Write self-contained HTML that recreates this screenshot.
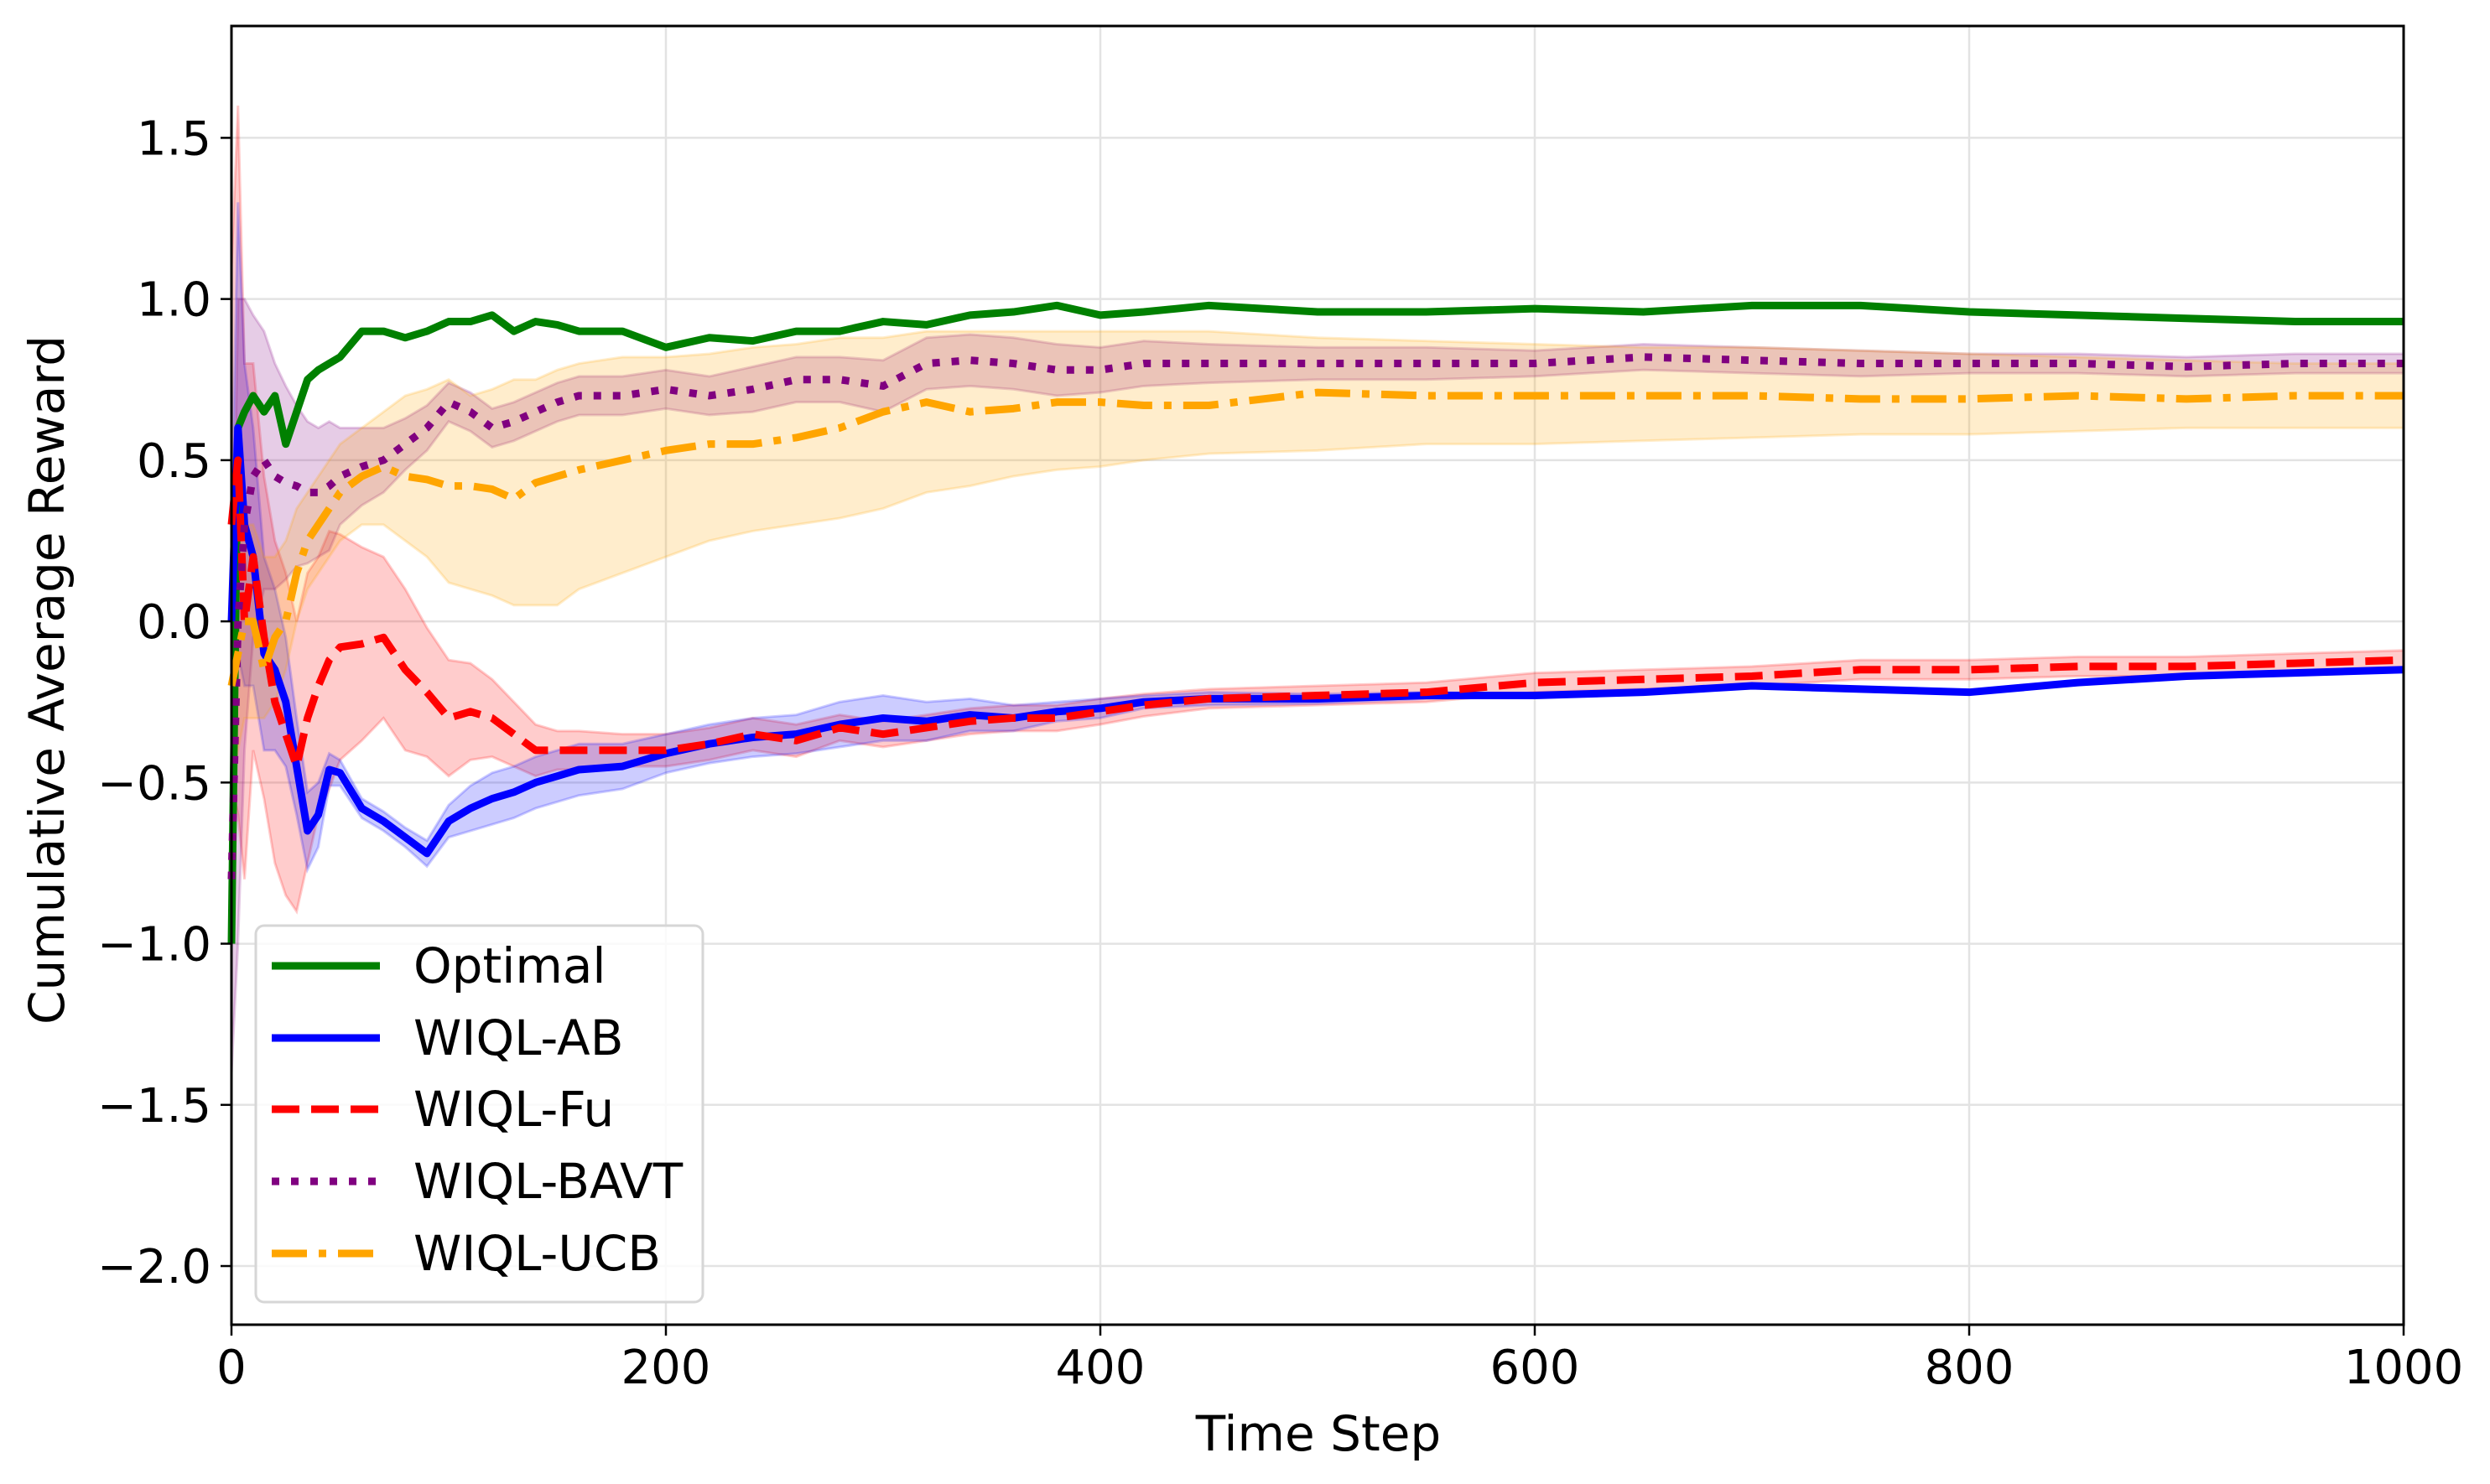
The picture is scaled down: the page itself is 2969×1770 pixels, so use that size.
<!DOCTYPE html>
<html><head><meta charset="utf-8">
<style>
html,body{margin:0;padding:0;background:#fff;}
svg{display:block;font-family:"DejaVu Sans","Liberation Sans",sans-serif;}
</style></head>
<body>
<svg id="chart" width="2969" height="1770" viewBox="0 0 2969 1770" xmlns="http://www.w3.org/2000/svg">
<rect width="2969" height="1770" fill="#fff"/>
<g id="grid"></g>
<g id="bands"></g>
<g id="lines"></g>
<g id="axes"></g>
<text x="0" y="0" transform="translate(76,811) rotate(-90)" text-anchor="middle" font-size="58">Cumulative Average Reward</text>
<text x="1572" y="1730" text-anchor="middle" font-size="58">Time Step</text>
<g>
<rect x="305" y="1104" width="533" height="449" rx="10" fill="#fff" fill-opacity="0.8" stroke="#d6d6d6" stroke-width="3"/>
<g><line x1="324" y1="1152" x2="453" y2="1152" stroke="green" stroke-width="9"/><text x="493" y="1172" font-size="58">Optimal</text></g>
<g><line x1="324" y1="1238" x2="453" y2="1238" stroke="blue" stroke-width="9"/><text x="493" y="1258" font-size="58">WIQL-AB</text></g>
<g><line x1="324" y1="1323" x2="453" y2="1323" stroke="red" stroke-width="9" stroke-dasharray="33,14"/><text x="493" y="1343" font-size="58">WIQL-Fu</text></g>
<g><line x1="324" y1="1409" x2="453" y2="1409" stroke="purple" stroke-width="9" stroke-dasharray="9,14"/><text x="493" y="1429" font-size="58">WIQL-BAVT</text></g>
<g><line x1="324" y1="1495" x2="453" y2="1495" stroke="orange" stroke-width="9" stroke-dasharray="42,14,9,14"/><text x="493" y="1515" font-size="58">WIQL-UCB</text></g>
</g>
</svg>
<script>
const T = [0,3,6,10,15,20,25,30,35,40,45,50,60,70,80,90,100,110,120,130,140,150,160,180,200,220,240,260,280,300,320,340,360,380,400,420,450,500,550,600,650,700,750,800,850,900,950,1000];
const optimalMean = [-1.0,0.6,0.65,0.7,0.65,0.7,0.55,0.65,0.75,0.78,0.8,0.82,0.9,0.9,0.88,0.9,0.93,0.93,0.95,0.9,0.93,0.92,0.9,0.9,0.85,0.88,0.87,0.9,0.9,0.93,0.92,0.95,0.96,0.98,0.95,0.96,0.98,0.96,0.96,0.97,0.96,0.98,0.98,0.96,0.95,0.94,0.93,0.93];
const abMean = [0.0,0.6,0.3,0.2,-0.1,-0.15,-0.25,-0.45,-0.65,-0.6,-0.46,-0.47,-0.58,-0.62,-0.67,-0.72,-0.62,-0.58,-0.55,-0.53,-0.5,-0.48,-0.46,-0.45,-0.41,-0.38,-0.36,-0.35,-0.32,-0.3,-0.31,-0.29,-0.3,-0.28,-0.27,-0.25,-0.24,-0.24,-0.23,-0.23,-0.22,-0.2,-0.21,-0.22,-0.19,-0.17,-0.16,-0.15];
const abHalf = [0.3,0.7,0.5,0.4,0.3,0.25,0.2,0.15,0.12,0.1,0.05,0.04,0.03,0.03,0.03,0.04,0.05,0.07,0.08,0.08,0.08,0.08,0.08,0.07,0.06,0.06,0.06,0.06,0.07,0.07,0.06,0.05,0.04,0.03,0.03,0.02,0.02,0.015,0.01,0.005,0.005,0.005,0.005,0.005,0.005,0.005,0.005,0.005];
const fuMean = [0.3,0.5,0.0,0.2,-0.05,-0.25,-0.35,-0.45,-0.3,-0.2,-0.12,-0.08,-0.07,-0.05,-0.15,-0.22,-0.3,-0.28,-0.3,-0.35,-0.4,-0.4,-0.4,-0.4,-0.4,-0.38,-0.35,-0.37,-0.33,-0.35,-0.33,-0.31,-0.3,-0.3,-0.28,-0.26,-0.24,-0.23,-0.22,-0.19,-0.18,-0.17,-0.15,-0.15,-0.14,-0.14,-0.13,-0.12];
const fuHalf = [0.8,1.1,0.8,0.6,0.5,0.5,0.5,0.45,0.45,0.4,0.4,0.35,0.3,0.25,0.25,0.2,0.18,0.15,0.12,0.1,0.08,0.06,0.06,0.05,0.05,0.05,0.05,0.05,0.04,0.04,0.04,0.04,0.04,0.04,0.04,0.035,0.03,0.03,0.03,0.03,0.03,0.03,0.03,0.03,0.03,0.03,0.03,0.03];
const bavtMean = [-0.8,0.0,0.3,0.45,0.5,0.45,0.43,0.42,0.4,0.4,0.42,0.45,0.48,0.5,0.55,0.6,0.68,0.65,0.6,0.62,0.65,0.68,0.7,0.7,0.72,0.7,0.72,0.75,0.75,0.73,0.8,0.81,0.8,0.78,0.78,0.8,0.8,0.8,0.8,0.8,0.82,0.81,0.8,0.8,0.8,0.79,0.8,0.8];
const bavtHalf = [0.6,1.0,0.7,0.5,0.4,0.35,0.3,0.25,0.22,0.2,0.2,0.15,0.12,0.1,0.08,0.07,0.06,0.06,0.06,0.06,0.06,0.06,0.06,0.06,0.06,0.06,0.07,0.07,0.07,0.08,0.08,0.08,0.08,0.08,0.07,0.07,0.06,0.05,0.05,0.04,0.04,0.04,0.04,0.03,0.03,0.03,0.03,0.03];
const ucbMean = [-0.2,-0.1,0.0,0.0,-0.15,-0.05,0.0,0.15,0.25,0.3,0.35,0.4,0.45,0.48,0.45,0.44,0.42,0.42,0.41,0.38,0.43,0.45,0.47,0.5,0.53,0.55,0.55,0.57,0.6,0.65,0.68,0.65,0.66,0.68,0.68,0.67,0.67,0.71,0.7,0.7,0.7,0.7,0.69,0.69,0.7,0.69,0.7,0.7];
const ucbLower = [-0.5,-0.4,-0.3,-0.3,-0.3,-0.25,-0.15,0.0,0.1,0.15,0.2,0.25,0.3,0.3,0.25,0.2,0.12,0.1,0.08,0.05,0.05,0.05,0.1,0.15,0.2,0.25,0.28,0.3,0.32,0.35,0.4,0.42,0.45,0.47,0.48,0.5,0.52,0.53,0.55,0.55,0.56,0.57,0.58,0.58,0.59,0.6,0.6,0.6];
const ucbUpper = [0.1,0.2,0.3,0.3,0.2,0.2,0.25,0.35,0.4,0.45,0.5,0.55,0.6,0.65,0.7,0.72,0.75,0.7,0.72,0.75,0.75,0.78,0.8,0.82,0.82,0.83,0.85,0.86,0.88,0.88,0.9,0.9,0.9,0.9,0.9,0.9,0.9,0.88,0.87,0.86,0.85,0.85,0.84,0.83,0.82,0.81,0.8,0.8];
const xTicks = [0,200,400,600,800,1000];
const yTicks = [-2.0,-1.5,-1.0,-0.5,0.0,0.5,1.0,1.5];

const L=276, R=2866, TOP=31, BOT=1580;
const xMin=0, xMax=1000, yMin=-2.182, yMax=1.847;
function sx(v){return L+(v-xMin)/(xMax-xMin)*(R-L);}
function sy(v){return BOT-(v-yMin)/(yMax-yMin)*(BOT-TOP);}
const NS="http://www.w3.org/2000/svg";
function mk(tag,attrs,parent){const e=document.createElementNS(NS,tag);for(const k in attrs)e.setAttribute(k,attrs[k]);parent.appendChild(e);return e;}
const grid=document.getElementById('grid'), bands=document.getElementById('bands'), lines=document.getElementById('lines'), axes=document.getElementById('axes');

xTicks.forEach(v=>{
  const g=mk('line',{x1:sx(v),x2:sx(v),y1:TOP,y2:BOT,stroke:'#e3e3e3','stroke-width':2.5},grid);
  
  
  const t=mk('line',{x1:sx(v),x2:sx(v),y1:BOT,y2:BOT+13,stroke:'#000','stroke-width':2.5},axes);
  
  
  const lb=mk('text',{x:sx(v),y:BOT+70,'text-anchor':'middle','font-size':56},axes);
  lb.textContent=String(v);
  
  
});
yTicks.forEach(v=>{
  const g=mk('line',{x1:L,x2:R,y1:sy(v),y2:sy(v),stroke:'#e3e3e3','stroke-width':2.5},grid);
  
  
  const t=mk('line',{x1:L-13,x2:L,y1:sy(v),y2:sy(v),stroke:'#000','stroke-width':2.5},axes);
  
  
  const lb=mk('text',{x:L-24,y:sy(v)+20,'text-anchor':'end','font-size':56},axes);
  lb.textContent=(v<0?'\u2212':'')+Math.abs(v).toFixed(1);
  
  
});
const frame=mk('rect',{x:L,y:TOP,width:R-L,height:BOT-TOP,fill:'none',stroke:'#000','stroke-width':3},axes);



function band(lo,hi,color,name){
  let d='M'+T.map((t,i)=>sx(t)+','+sy(hi[i])).join(' L');
  d+=' L'+T.slice().reverse().map((t,j)=>{const i=T.length-1-j;return sx(t)+','+sy(lo[i]);}).join(' L')+' Z';
  const p=mk('path',{d:d,fill:color,'fill-opacity':0.2,stroke:color,'stroke-opacity':0.2,'stroke-width':3},bands);
  
  
}
function line(mean,color,dash,name){
  const d='M'+T.map((t,i)=>sx(t)+','+sy(mean[i])).join(' L');
  const p=mk('path',{d:d,fill:'none',stroke:color,'stroke-width':9,'stroke-linejoin':'round'},lines);
  if(dash)p.setAttribute('stroke-dasharray',dash);
  
  
}
band(fuMean.map((m,i)=>m-fuHalf[i]),fuMean.map((m,i)=>m+fuHalf[i]),'red','band-wiql-fu');
band(abMean.map((m,i)=>m-abHalf[i]),abMean.map((m,i)=>m+abHalf[i]),'blue','band-wiql-ab');
band(bavtMean.map((m,i)=>m-bavtHalf[i]),bavtMean.map((m,i)=>m+bavtHalf[i]),'purple','band-wiql-bavt');
band(ucbLower,ucbUpper,'orange','band-wiql-ucb');
line(optimalMean,'green',null,'line-optimal');
line(abMean,'blue',null,'line-wiql-ab');
line(fuMean,'red','33,14','line-wiql-fu');
line(bavtMean,'purple','9,14','line-wiql-bavt');
line(ucbMean,'orange','42,14,9,14','line-wiql-ucb');
</script>
</body></html>
